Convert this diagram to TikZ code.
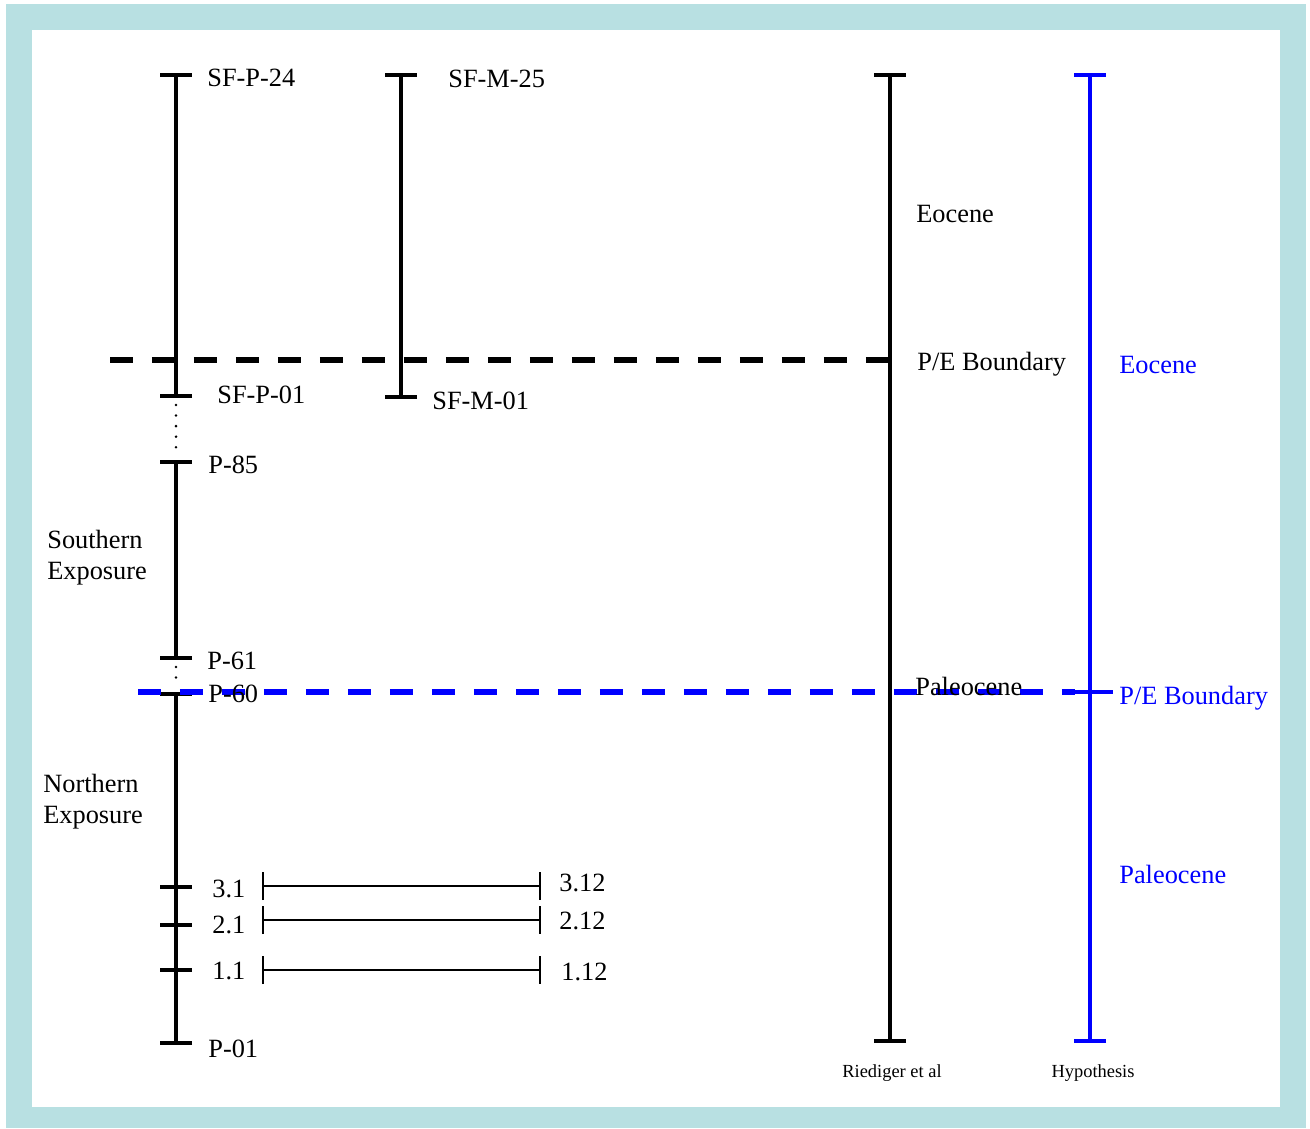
\documentclass[tikz,border=0pt]{standalone}
\usepackage{fontspec}
\setmainfont{Liberation Serif}
\usetikzlibrary{arrows.meta}

\definecolor{framecol}{RGB}{184,224,226}

\tikzset{
	lbl/.style={anchor=west, inner sep=0pt, text height=0.66em, text depth=0pt, yshift=-2.2pt},
	foot/.style={inner sep=0pt, font=\fontsize{10.5}{12}\selectfont},
	rng/.style={line width=2.1pt, {Bar[width=6.4mm]}-{Bar[width=6.4mm]}},
	smpl/.style={line width=1.4pt, {Bar[width=5.6mm]}-{Bar[width=5.6mm]}},
	gap/.style={line width=1.6pt, line cap=round, dash pattern=on 0pt off 6pt, shorten <=4pt, shorten >=3pt},
	tickmark/.style={line width=2.1pt},
	bound/.style={line width=3.3pt, dash pattern=on 0.46cm off 0.38cm}
}

\begin{document}
\begin{tikzpicture}[x=0.02cm, y=-0.02cm, every node/.style={font=\fontsize{15}{17.6}\selectfont}]

	% frame
	\useasboundingbox (0,0) rectangle (1310,1128);
	\fill[framecol] (6,4) rectangle (1306,1128);
	\fill[white] (32,30) rectangle (1280,1107);

	% section ends
	\coordinate (a1) at (176,73);
	\coordinate (a2) at (176,398);
	\coordinate (a3) at (176,460);
	\coordinate (a4) at (176,660);
	\coordinate (a5) at (176,692);
	\coordinate (a6) at (176,1045);
	\coordinate (b1) at (401,73);
	\coordinate (b2) at (401,399);
	\coordinate (c1) at (890,73);
	\coordinate (c2) at (890,1043);
	\coordinate (d1) at (1090,73);
	\coordinate (d2) at (1090,1043);
	\coordinate (d3) at (1090,692);

	% samples
	\coordinate (s31) at (176,887);
	\coordinate (s21) at (176,925);
	\coordinate (s11) at (176,970);
	\coordinate (h3a) at (262,886);
	\coordinate (h3b) at (541,886);
	\coordinate (h2a) at (262,920);
	\coordinate (h2b) at (541,920);
	\coordinate (h1a) at (262,970);
	\coordinate (h1b) at (541,970);

	% boundaries
	\coordinate (e1) at (110,360);
	\coordinate (e2) at (893,360);
	\coordinate (f1) at (138,692);
	\coordinate (f2) at (1075,692);

	\path[rng]
	(a1) edge (a2)
	(a3) edge (a4)
	(a5) edge (a6)
	(b1) edge (b2)
	(c1) edge (c2);
	\path[rng, blue] (d1) edge (d2);

	\path[gap]
	(a2) edge (a3)
	(a4) edge (a5);

	\draw[tickmark] (s31) ++(-16,0) -- ++(32,0);
	\draw[tickmark] (s21) ++(-16,0) -- ++(32,0);
	\draw[tickmark] (s11) ++(-16,0) -- ++(32,0);
	\draw[tickmark, blue] (d3) ++(-15,0) -- ++(38,0);

	\path[smpl]
	(h3a) edge (h3b)
	(h2a) edge (h2b)
	(h1a) edge (h1b);

	\draw[bound] (e1) -- (e2);
	\draw[bound, blue] (f1) -- (f2);

	% labels
	\node (sfp24) [lbl] at (207,77) {SF-P-24};
	\node (sfm25) [lbl] at (448,78) {SF-M-25};
	\node (sfp01) [lbl] at (217,394) {SF-P-01};
	\node (sfm01) [lbl] at (432,400) {SF-M-01};
	\node (p85) [lbl] at (208,464) {P-85};
	\node (p61) [lbl] at (207,660) {P-61};
	\node (p60) [lbl] at (208,693) {P-60};
	\node (p01) [lbl] at (208,1048) {P-01};
	\node (l31) [lbl] at (212,888) {3.1};
	\node (l21) [lbl] at (212,924) {2.1};
	\node (l11) [lbl] at (212,970) {1.1};
	\node (l312) [lbl] at (559,882) {3.12};
	\node (l212) [lbl] at (559,920) {2.12};
	\node (l112) [lbl] at (561,971) {1.12};
	\node (south) [anchor=north west, inner sep=0pt, align=left] at (47,530) {Southern\\Exposure};
	\node (north) [anchor=north west, inner sep=0pt, align=left] at (43,774) {Northern\\Exposure};

	\node (eoc) [lbl] at (916,213) {Eocene};
	\node (peb) [lbl] at (917,361) {P/E Boundary};
	\node (pal) [lbl] at (915,686) {Paleocene};
	\node (heoc) [lbl, blue] at (1119,364) {Eocene};
	\node (hpeb) [lbl, blue] at (1119,695) {P/E Boundary};
	\node (hpal) [lbl, blue] at (1119,874) {Paleocene};

	\node (ried) [foot] at (892,1073) {Riediger et al};
	\node (hyp) [foot] at (1093,1073) {Hypothesis};

\end{tikzpicture}
\end{document}
